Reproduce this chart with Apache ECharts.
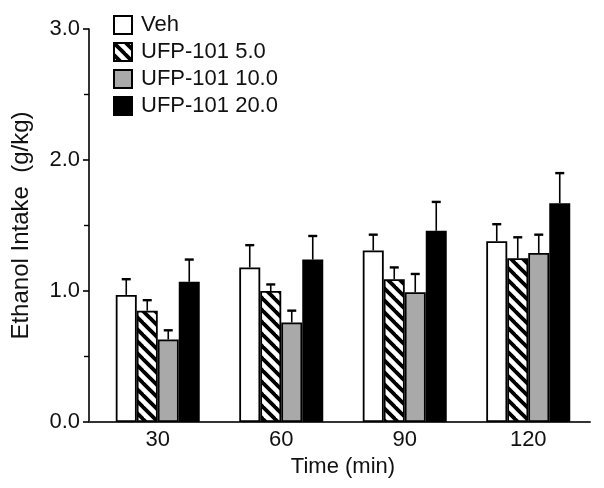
<!DOCTYPE html>
<html>
<head>
<meta charset="utf-8">
<script src="https://cdn.jsdelivr.net/npm/echarts@6/dist/echarts.min.js"></script>
<style>html,body{margin:0;padding:0;background:#fff;}#c{width:604px;height:488px;}</style>
</head>
<body>
<div id="c"></div>
<script>
var categories = ['30', '60', '90', '120'];
var seriesNames = ['Veh', 'UFP-101 5.0', 'UFP-101 10.0', 'UFP-101 20.0'];
var vehMean = [0.97, 1.18, 1.31, 1.38];
var vehErr = [0.12, 0.17, 0.12, 0.13];
var ufp5Mean = [0.85, 1.00, 1.09, 1.25];
var ufp5Err = [0.08, 0.05, 0.09, 0.16];
var ufp10Mean = [0.63, 0.76, 0.99, 1.29];
var ufp10Err = [0.07, 0.09, 0.14, 0.14];
var ufp20Mean = [1.07, 1.24, 1.46, 1.67];
var ufp20Err = [0.17, 0.18, 0.22, 0.23];
var yTicks = [0, 1, 2, 3];

var means = [vehMean, ufp5Mean, ufp10Mean, ufp20Mean];
var errs = [vehErr, ufp5Err, ufp10Err, ufp20Err];

// hatch pattern
var pc = document.createElement('canvas');
pc.width = 12; pc.height = 12;
var pctx = pc.getContext('2d');
pctx.fillStyle = '#fff';
pctx.fillRect(0, 0, 12, 12);
pctx.strokeStyle = '#000';
pctx.lineWidth = 3.8;
[[-6, -6, 18, 18], [-6, 6, 6, 18], [6, -6, 18, 6]].forEach(function (s) {
  pctx.beginPath(); pctx.moveTo(s[0], s[1]); pctx.lineTo(s[2], s[3]); pctx.stroke();
});

var fills = ['#ffffff', { image: pc, repeat: 'repeat' }, '#a9a9a9', '#000000'];
var BAR_W = 21;
var FONT = 'Liberation Sans';

var series = [];
seriesNames.forEach(function (name, i) {
  series.push({
    name: name,
    type: 'bar',
    data: means[i],
    barWidth: BAR_W,
    barGap: '0%',
    itemStyle: { color: fills[i], borderColor: '#000', borderWidth: 1.8 },
    z: 2
  });
});
seriesNames.forEach(function (name, i) {
  series.push({
    type: 'custom',
    name: name + ' err',
    data: means[i].map(function (m, j) { return [j, m, m + errs[i][j]]; }),
    encode: { x: 0, y: [1, 2] },
    z: 1,
    silent: true,
    renderItem: function (params, api) {
      var c = api.value(0);
      var lo = api.coord([c, api.value(1)]);
      var hi = api.coord([c, api.value(2)]);
      var x = lo[0] + (i - 1.5) * BAR_W;
      var cap = 4.5;
      return {
        type: 'group',
        children: [
          { type: 'line', shape: { x1: x, y1: lo[1], x2: x, y2: hi[1] }, style: { stroke: '#000', lineWidth: 1.6 } },
          { type: 'line', shape: { x1: x - cap, y1: hi[1], x2: x + cap, y2: hi[1] }, style: { stroke: '#000', lineWidth: 2.4 } }
        ]
      };
    }
  });
});

var chart = echarts.init(document.getElementById('c'), null, { renderer: 'canvas' });
chart.setOption({
  animation: false,
  backgroundColor: '#fff',
  grid: { left: 96, right: 14, top: 29, bottom: 66 },
  legend: {
    data: seriesNames,
    orient: 'vertical',
    left: 108,
    top: 9,
    itemWidth: 18,
    itemHeight: 18,
    itemGap: 5,
    icon: 'rect',
    textStyle: { fontFamily: FONT, fontSize: 22, color: '#111', padding: [0, 0, 0, 4] }
  },
  xAxis: {
    type: 'category',
    data: categories,
    name: 'Time (min)',
    nameLocation: 'middle',
    nameGap: 31,
    nameTextStyle: { fontFamily: FONT, fontSize: 22, color: '#111' },
    axisLine: { lineStyle: { color: '#333', width: 2 } },
    axisTick: { show: false },
    axisLabel: { fontFamily: FONT, fontSize: 22, color: '#111', margin: 7 }
  },
  yAxis: {
    type: 'value',
    min: yTicks[0],
    max: yTicks[yTicks.length - 1],
    interval: 1,
    offset: 7,
    name: 'Ethanol Intake  (g/kg)',
    nameLocation: 'middle',
    nameGap: 56,
    nameTextStyle: { fontFamily: FONT, fontSize: 24, color: '#111' },
    axisLine: { show: true, lineStyle: { color: '#000', width: 1.6 } },
    axisTick: { show: true, length: 6, lineStyle: { color: '#000', width: 1.6 } },
    minorTick: { show: true, splitNumber: 2, length: 5, lineStyle: { color: '#000', width: 1.4 } },
    splitLine: { show: false },
    axisLabel: { fontFamily: FONT, fontSize: 22, color: '#111', margin: 9, formatter: function (v) { return v.toFixed(1); } }
  },
  series: series
});

// extend x-axis baseline to the offset y-axis
var p0 = chart.convertToPixel({ gridIndex: 0 }, [0, 0]);
var gridLeft = chart.getModel().getComponent('grid', 0).coordinateSystem.getRect().x;
chart.setOption({
  graphic: [{
    type: 'line',
    shape: { x1: gridLeft - 7, y1: p0[1], x2: gridLeft, y2: p0[1] },
    style: { stroke: '#333', lineWidth: 2 },
    z: 10
  }]
});
</script>
</body>
</html>
